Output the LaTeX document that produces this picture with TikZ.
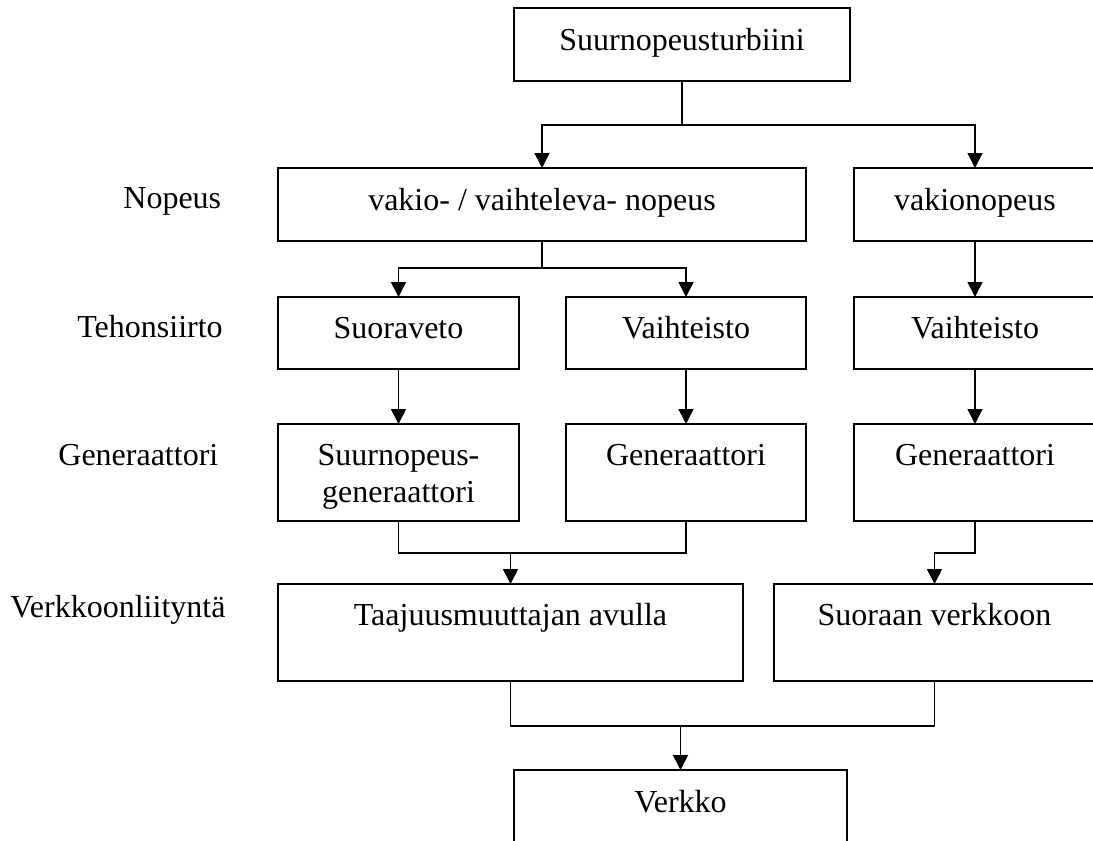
\documentclass[tikz,border=0pt]{standalone}
\usepackage{fontspec}
\setmainfont{Liberation Serif}
\usetikzlibrary{arrows.meta}
\tikzset{
  box/.style={draw, line width=0.75pt, inner sep=0pt, outer sep=0pt},
  lnk/.style={line width=0.75pt},
  arr/.style={line width=0.75pt, -{Triangle[length=7.5pt,width=7.5pt]}},
  txt/.style={inner sep=0pt, anchor=base, font=\fontsize{16pt}{18.5pt}\selectfont},
  side/.style={txt, anchor=base west},
}
\begin{document}
\begin{tikzpicture}[x=0.5pt, y=-0.5pt]
\useasboundingbox (0,0) rectangle (1093,841);

% boxes
\node[box, minimum width=168pt,   minimum height=36.5pt] (top)  at (682,44.5)   {};
\node[box, minimum width=264pt,   minimum height=36.5pt] (vak)  at (542,204.5)  {};
\node[box, minimum width=121pt,   minimum height=36.5pt] (vkn)  at (975,204.5)  {};
\node[box, minimum width=120.5pt, minimum height=36pt]   (suo)  at (398.5,333)  {};
\node[box, minimum width=120pt,   minimum height=36pt]   (vai)  at (686,333)    {};
\node[box, minimum width=121pt,   minimum height=36pt]   (vai2) at (975,333)    {};
\node[box, minimum width=120.5pt, minimum height=48.5pt] (g1)   at (398.5,472.5){};
\node[box, minimum width=120pt,   minimum height=48.5pt] (g2)   at (686,472.5)  {};
\node[box, minimum width=121pt,   minimum height=48.5pt] (g3)   at (975,472.5)  {};
\node[box, minimum width=232.5pt, minimum height=48.5pt] (taa)  at (510.5,632.5){};
\node[box, minimum width=160.5pt, minimum height=48.5pt] (sv)   at (934.5,632.5){};
\node[box, minimum width=166.5pt, minimum height=48.5pt] (ver)  at (680.5,818.5){};

% box texts
\node[txt] (topT)  at (682,50)    {Suurnopeusturbiini};
\node[txt] (vakT)  at (542,210)   {vakio- / vaihteleva- nopeus};
\node[txt] (vknT)  at (975,210)   {vakionopeus};
\node[txt] (suoT)  at (398.5,338) {Suoraveto};
\node[txt] (vaiT)  at (686,338)   {Vaihteisto};
\node[txt] (vai2T) at (975,338)   {Vaihteisto};
\node[txt] (g1Ta)  at (398.5,465) {Suurnopeus-};
\node[txt] (g1Tb)  at (398.5,502) {generaattori};
\node[txt] (g2T)   at (686,465)   {Generaattori};
\node[txt] (g3T)   at (975,465)   {Generaattori};
\node[txt] (taaT)  at (510.5,625) {Taajuusmuuttajan avulla};
\node[txt] (svT)   at (934.5,625) {Suoraan verkkoon};
\node[txt] (verT)  at (680.5,812) {Verkko};

% row captions
\node[side] (capA) at (123,208) {Nopeus};
\node[side] (capB) at (77,337)  {Tehonsiirto};
\node[side] (capC) at (58,465)  {Generaattori};
\node[side] (capD) at (10,617)  {Verkkoonliityntä};

% junction points
\coordinate (j1) at (682,125);
\coordinate (j2) at (542,268);
\coordinate (m1) at (510.5,553);
\coordinate (m2) at (934.5,553);
\coordinate (m3) at (680.5,726);

% connectors
\draw[lnk] (top.south) -- (j1);
\draw[arr] (j1) -| (vak.north);
\draw[arr] (j1) -| (vkn.north);

\draw[lnk] (vak.south) -- (j2);
\draw[arr] (j2) -| (suo.north);
\draw[arr] (j2) -| (vai.north);
\draw[arr] (vkn.south) -- (vai2.north);

\draw[arr] (suo.south) -- (g1.north);
\draw[arr] (vai.south) -- (g2.north);
\draw[arr] (vai2.south) -- (g3.north);

\draw[lnk] (g1.south) |- (m1) -| (g2.south);
\draw[arr] (m1) -- (taa.north);
\draw[arr] (g3.south) |- (m2) -- (sv.north);

\draw[lnk] (taa.south) |- (m3) -| (sv.south);
\draw[arr] (m3) -- (ver.north);
\end{tikzpicture}
\end{document}
